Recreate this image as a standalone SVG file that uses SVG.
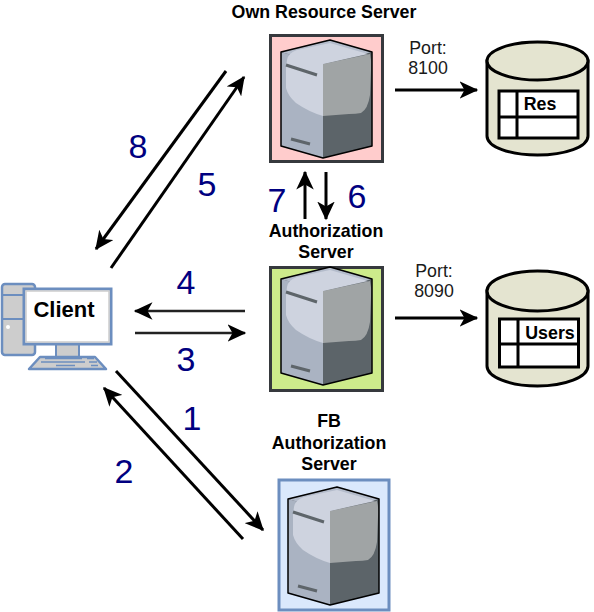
<svg xmlns="http://www.w3.org/2000/svg" width="594" height="612" viewBox="0 0 594 612">
<style>
.lbl{font-family:"Liberation Sans",Arial,sans-serif;font-size:17.800px;font-weight:bold;fill:#000;text-anchor:middle}
.port{font-family:"Liberation Sans",Arial,sans-serif;font-size:17.800px;fill:#1a1a1a;text-anchor:middle}
.num{font-family:"Liberation Sans",Arial,sans-serif;font-size:34px;fill:#000080;text-anchor:middle}
.cn line{stroke:#000;stroke-width:3;fill:none;marker-end:url(#ah)}
.cn .d{stroke:#222;stroke-width:2.500}
.tb{fill:#fff;stroke:#000;stroke-width:3}
</style>
<defs>
<marker id="ah" markerUnits="userSpaceOnUse" markerWidth="20" markerHeight="18" refX="14" refY="7" orient="auto" viewBox="0 0 16 14"><path d="M0 0L15 7L0 14L4 7Z" fill="#000"/></marker>
<g id="srv">
<path d="M0 0L49-12L91 0L91 94L42 106L0 94Z" fill="#5c6469"/>
<path d="M0 0L42 12L42 106L0 94Z" fill="#aab3c2"/>
<path d="M0 0L49-12L91 0L42 12Z" fill="#b4bccb"/>
<path d="M42 12L89 2Q91 10 90 18L89 43Q87 57 80 61Q75 62 68 62L42 64Z" fill="#a0a4a5"/>
<path d="M42 12L87 2L49-9L16-2Q7 1 6 8L5 16L5 36Q7 44 15 51Q28 60 42 64Z" fill="#ced3df"/>
<path d="M0 0L49-12L91 0L91 94L42 106L0 94Z" fill="none" stroke="#000" stroke-width="1.500" stroke-linejoin="round"/>
<path d="M5 13L36 23M10 87L29 92" stroke="#5e656a" stroke-width="3" fill="none"/>
</g>
</defs>
<g id="connectors" class="cn">
<line x1="395" y1="90" x2="477" y2="90"/>
<line x1="395" y1="318" x2="477" y2="318"/>
<line x1="226" y1="71" x2="96" y2="249"/>
<line x1="111" y1="268" x2="244" y2="77"/>
<line x1="305" y1="219" x2="305" y2="172"/>
<line x1="326" y1="172" x2="326" y2="219"/>
<line class="d" x1="245" y1="311" x2="135" y2="311"/>
<line class="d" x1="135" y1="333" x2="245" y2="333"/>
<line x1="243" y1="539" x2="104" y2="388"/>
<line x1="116" y1="371" x2="263" y2="530"/>
</g>
<g id="own-resource-server">
<rect x="270.500" y="35.500" width="112" height="126" fill="#ffcccc" stroke="#36393d" stroke-width="3"/>
<use href="#srv" x="281" y="52"/>
<text class="lbl" x="324" y="18">Own Resource Server</text>
</g>
<g id="authorization-server">
<rect x="270.500" y="267.500" width="112" height="123" fill="#cdeb8b" stroke="#36393d" stroke-width="3"/>
<use href="#srv" x="281" y="279"/>
<text class="lbl" x="326" y="237">Authorization</text>
<text class="lbl" x="326" y="258">Server</text>
</g>
<g id="fb-authorization-server">
<rect x="279" y="480" width="110" height="130" fill="#dae8fc" stroke="#6c8ebf" stroke-width="3"/>
<use href="#srv" x="288" y="499"/>
<text class="lbl" x="329" y="427">FB</text>
<text class="lbl" x="329" y="449">Authorization</text>
<text class="lbl" x="329" y="470">Server</text>
</g>
<g id="client">
<rect x="2" y="284" width="33" height="71" rx="3" fill="#cdcdcd" stroke="#6c8ebf" stroke-width="2.500"/>
<path d="M2 295H35M2 319H35" stroke="#6c8ebf" stroke-width="2" fill="none"/>
<circle cx="8" cy="327" r="2" fill="#fff"/>
<rect x="56" y="344" width="23" height="14" fill="#cdcdcd" stroke="#6c8ebf" stroke-width="2"/>
<path d="M40 357H95L106 369H29Z" fill="#cdcdcd" stroke="#6c8ebf" stroke-width="2.500" stroke-linejoin="round"/>
<path d="M45 358.500H82M87 358.500H94M41 362H85M89 362H97M56 365.500H75M91 365.500H98" stroke="#6c8ebf" stroke-width="1.500" fill="none"/>
<rect x="24" y="289" width="87" height="55" fill="#fff" stroke="#6c8ebf" stroke-width="3"/>
<rect x="26" y="291" width="83" height="51" fill="#fff" stroke="#cdcdcd" stroke-width="1.500"/>
<text x="64" y="317" font-family="Liberation Sans,Arial,sans-serif" font-size="22" font-weight="bold" text-anchor="middle">Client</text>
</g>
<g id="res-db">
<path d="M487 61V136C487 147 510 155 537.500 155C565 155 588 147 588 136V61Z" fill="#e4e4d0" stroke="#000" stroke-width="3"/>
<ellipse cx="537.500" cy="61" rx="50.500" ry="19" fill="#e4e4d0" stroke="#000" stroke-width="3"/>
<rect class="tb" x="499" y="91" width="79" height="47"/>
<path d="M517 91V138M499 117H578" stroke="#000" stroke-width="3" fill="none"/>
<text x="540" y="110" font-family="Liberation Sans,Arial,sans-serif" font-size="17.800" font-weight="bold" text-anchor="middle">Res</text>
<text class="port" x="428" y="54">Port:</text>
<text class="port" x="428" y="74">8100</text>
</g>
<g id="users-db">
<path d="M487 291V366C487 377 510 386 537.500 386C565 386 588 377 588 366V291Z" fill="#e4e4d0" stroke="#000" stroke-width="3"/>
<ellipse cx="537.500" cy="291" rx="50.500" ry="20" fill="#e4e4d0" stroke="#000" stroke-width="3"/>
<rect class="tb" x="499.500" y="319" width="79" height="48"/>
<path d="M518 319V367M499.500 344H578.500" stroke="#000" stroke-width="3" fill="none"/>
<text x="550" y="339" font-family="Liberation Sans,Arial,sans-serif" font-size="17.800" font-weight="bold" text-anchor="middle">Users</text>
<text class="port" x="434" y="277">Port:</text>
<text class="port" x="434" y="297">8090</text>
</g>
<g id="step-labels">
<text class="num" x="138" y="158">8</text>
<text class="num" x="207" y="196">5</text>
<text class="num" x="277" y="212">7</text>
<text class="num" x="357" y="208">6</text>
<text class="num" x="186" y="294">4</text>
<text class="num" x="186" y="371">3</text>
<text class="num" x="192" y="430">1</text>
<text class="num" x="124" y="483">2</text>
</g>
</svg>
